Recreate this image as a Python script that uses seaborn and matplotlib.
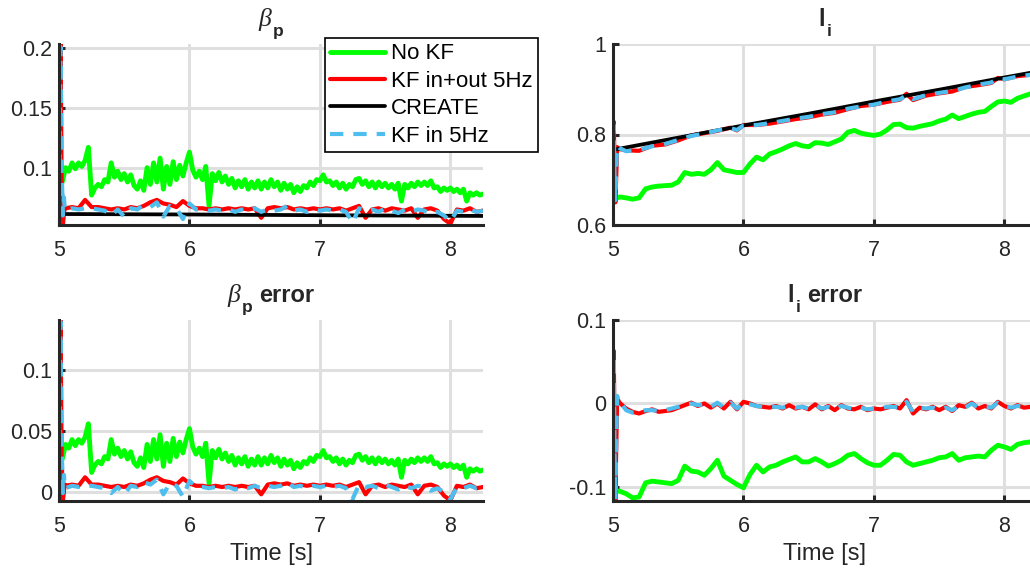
import numpy as np
import matplotlib
matplotlib.use("Agg")
import matplotlib.pyplot as plt
import seaborn as sns

# ---------------- data ----------------
series_labels = ["No KF", "KF in+out 5Hz", "CREATE", "KF in 5Hz"]

# time grids
t_fine = np.round(np.arange(5.025, 8.2501, 0.025), 3)      # 130 samples
t_step = np.round(np.arange(5.05, 8.2501, 0.05), 3)        # 65 samples
t_step0 = np.round(np.arange(5.0, 8.2501, 0.05), 3)        # 66 samples
t_bp_head = [5.004, 5.012, 5.02, 5.03, 5.038, 5.045]
t_li_head = [5.0, 5.006, 5.012, 5.018, 5.024, 5.032, 5.04]

# beta_p estimate, No KF
bp_nokf = [
    0.088, 0.100, 0.097, 0.104, 0.099, 0.104, 0.101, 0.106, 0.117, 0.077,
    0.083, 0.086, 0.084, 0.090, 0.088, 0.104, 0.092, 0.097, 0.090, 0.095,
    0.088, 0.094, 0.085, 0.082, 0.089, 0.081, 0.100, 0.086, 0.104, 0.088,
    0.108, 0.082, 0.101, 0.086, 0.105, 0.090, 0.102, 0.093, 0.104, 0.113,
    0.098, 0.092, 0.097, 0.090, 0.101, 0.068, 0.095, 0.089, 0.096, 0.088,
    0.093, 0.086, 0.091, 0.083, 0.089, 0.084, 0.090, 0.082, 0.088, 0.083,
    0.089, 0.082, 0.088, 0.083, 0.090, 0.084, 0.088, 0.081, 0.087, 0.082,
    0.086, 0.079, 0.084, 0.080, 0.085, 0.083, 0.088, 0.085, 0.090, 0.089,
    0.094, 0.088, 0.089, 0.085, 0.088, 0.083, 0.087, 0.082, 0.086, 0.084,
    0.090, 0.091, 0.086, 0.089, 0.084, 0.088, 0.083, 0.088, 0.084, 0.087,
    0.083, 0.086, 0.082, 0.087, 0.072, 0.086, 0.083, 0.087, 0.084, 0.088,
    0.085, 0.088, 0.085, 0.089, 0.083, 0.084, 0.080, 0.083, 0.081, 0.083,
    0.080, 0.082, 0.079, 0.082, 0.072, 0.079, 0.077, 0.079, 0.077, 0.078,
]
# beta_p estimate, KF in+out 5Hz
bp_kfio = [0.095, 0.204, 0.090, 0.052, 0.062, 0.067,
    0.066, 0.067, 0.066, 0.073, 0.067, 0.067, 0.066, 0.065, 0.066, 0.065,
    0.067, 0.066, 0.068, 0.071, 0.073, 0.070, 0.069, 0.067, 0.072, 0.068,
    0.066, 0.066, 0.065, 0.066, 0.065, 0.066, 0.065, 0.066, 0.065, 0.066,
    0.058, 0.066, 0.067, 0.066, 0.067, 0.065, 0.066, 0.065, 0.066, 0.065,
    0.066, 0.065, 0.066, 0.064, 0.066, 0.068, 0.058, 0.065, 0.066, 0.064,
    0.066, 0.065, 0.064, 0.066, 0.058, 0.065, 0.066, 0.064, 0.057, 0.053,
    0.065, 0.064, 0.066, 0.063, 0.064]
# beta_p estimate, KF in 5Hz
bp_kfin = [0.100, 0.201, 0.100, 0.060, 0.075, 0.064,
    0.064, 0.066, 0.065, 0.066, 0.066, 0.065, 0.064, 0.060, 0.065, 0.059,
    0.066, 0.065, 0.069, 0.067, 0.071, 0.059, 0.068, 0.066, 0.057, 0.070,
    0.065, 0.065, 0.064, 0.065, 0.064, 0.065, 0.063, 0.065, 0.064, 0.066,
    0.063, 0.065, 0.064, 0.065, 0.068, 0.064, 0.065, 0.063, 0.065, 0.064,
    0.065, 0.064, 0.065, 0.063, 0.054, 0.066, 0.064, 0.065, 0.063, 0.066,
    0.064, 0.062, 0.065, 0.063, 0.065, 0.064, 0.061, 0.063, 0.060, 0.055,
    0.064, 0.063, 0.065, 0.063, 0.064]
# beta_p CREATE reference
bp_create_t = [5.0, 6.0, 7.0, 8.0, 8.25]
bp_create = [0.0612, 0.0608, 0.0602, 0.0597, 0.0596]

# beta_p error
bp_err_nokf = [
    0.027, 0.039, 0.036, 0.043, 0.038, 0.043, 0.040, 0.045, 0.056, 0.016,
    0.022, 0.025, 0.023, 0.029, 0.027, 0.043, 0.031, 0.036, 0.029, 0.034,
    0.027, 0.033, 0.024, 0.021, 0.028, 0.020, 0.039, 0.025, 0.043, 0.027,
    0.047, 0.021, 0.040, 0.025, 0.044, 0.029, 0.041, 0.032, 0.043, 0.052,
    0.037, 0.031, 0.036, 0.029, 0.040, 0.007, 0.034, 0.028, 0.035, 0.027,
    0.032, 0.025, 0.030, 0.022, 0.028, 0.023, 0.029, 0.021, 0.027, 0.022,
    0.029, 0.022, 0.028, 0.023, 0.030, 0.024, 0.028, 0.021, 0.027, 0.022,
    0.026, 0.019, 0.024, 0.020, 0.025, 0.023, 0.028, 0.025, 0.030, 0.029,
    0.034, 0.028, 0.029, 0.025, 0.028, 0.023, 0.027, 0.022, 0.026, 0.024,
    0.030, 0.031, 0.026, 0.029, 0.024, 0.028, 0.023, 0.028, 0.024, 0.027,
    0.023, 0.026, 0.022, 0.027, 0.012, 0.026, 0.023, 0.027, 0.024, 0.028,
    0.025, 0.028, 0.025, 0.029, 0.023, 0.024, 0.020, 0.023, 0.021, 0.023,
    0.020, 0.022, 0.019, 0.022, 0.012, 0.019, 0.017, 0.019, 0.017, 0.018,
]
bp_err_kfio = [0.035, 0.141, 0.030, -0.0075, 0.001, 0.006,
    0.005, 0.006, 0.005, 0.012, 0.006, 0.006, 0.005, 0.004, 0.005, 0.004,
    0.006, 0.005, 0.007, 0.010, 0.012, 0.009, 0.008, 0.006, 0.011, 0.007,
    0.005, 0.005, 0.004, 0.005, 0.004, 0.005, 0.004, 0.005, 0.004, 0.005,
    -0.002, 0.006, 0.007, 0.006, 0.007, 0.005, 0.006, 0.005, 0.006, 0.005,
    0.006, 0.005, 0.006, 0.004, 0.006, 0.008, -0.002, 0.005, 0.006, 0.004,
    0.006, 0.005, 0.004, 0.006, -0.002, 0.005, 0.006, 0.004, -0.003, -0.007,
    0.005, 0.004, 0.006, 0.003, 0.004]
bp_err_kfin = [0.040, 0.140, 0.040, -0.001, 0.014, 0.003,
    0.003, 0.005, 0.004, 0.005, 0.005, 0.004, 0.003, -0.001, 0.004, -0.002,
    0.005, 0.004, 0.008, 0.006, 0.010, -0.002, 0.007, 0.005, -0.004, 0.009,
    0.004, 0.004, 0.003, 0.004, 0.003, 0.004, 0.002, 0.004, 0.003, 0.005,
    0.003, 0.005, 0.004, 0.005, 0.008, 0.004, 0.005, 0.003, 0.005, 0.004,
    0.005, 0.004, 0.005, 0.003, -0.006, 0.006, 0.004, 0.005, 0.003, 0.006,
    0.004, 0.002, 0.005, 0.003, 0.005, 0.004, 0.001, 0.003, 0.000, -0.006,
    0.004, 0.003, 0.005, 0.003, 0.004]

# l_i estimate
li_nokf = [
    0.655, 0.662, 0.660, 0.657, 0.660, 0.680, 0.684, 0.686, 0.687, 0.688,
    0.695, 0.716, 0.712, 0.714, 0.712, 0.722, 0.738, 0.722, 0.719, 0.716,
    0.716, 0.735, 0.750, 0.744, 0.757, 0.762, 0.768, 0.775, 0.780, 0.775,
    0.773, 0.782, 0.781, 0.778, 0.784, 0.790, 0.805, 0.809, 0.803, 0.800,
    0.798, 0.801, 0.810, 0.822, 0.823, 0.815, 0.814, 0.818, 0.821, 0.824,
    0.830, 0.834, 0.843, 0.835, 0.840, 0.845, 0.849, 0.851, 0.862, 0.872,
    0.874, 0.871, 0.880, 0.885, 0.890, 0.893]
li_est_t = [5.0, 5.006, 5.012, 5.018, 5.024, 5.032, 5.05,
            5.1, 5.2, 5.3, 5.4, 5.5, 5.6, 5.7, 5.8, 5.9, 5.95,
            6.0, 6.1, 6.2, 6.3, 6.4, 6.5, 6.6, 6.7, 6.8, 6.9, 7.0, 7.1, 7.2, 7.25,
            7.3, 7.4, 7.5, 7.6, 7.7, 7.8, 7.9, 7.95, 8.0, 8.1, 8.2, 8.25]
li_kfio = [0.740, 0.828, 0.720, 0.650, 0.700, 0.772, 0.768,
           0.765, 0.764, 0.775, 0.778, 0.787, 0.798, 0.803, 0.808, 0.815, 0.809,
           0.821, 0.821, 0.824, 0.829, 0.834, 0.838, 0.844, 0.848, 0.856, 0.863,
           0.866, 0.872, 0.877, 0.890,
           0.876, 0.886, 0.891, 0.895, 0.905, 0.909, 0.914, 0.925,
           0.922, 0.929, 0.932, 0.934]
li_kfin = [0.750, 0.820, 0.700, 0.655, 0.720, 0.775, 0.770,
           0.763, 0.766, 0.774, 0.779, 0.788, 0.797, 0.802, 0.809, 0.814, 0.810,
           0.820, 0.821, 0.825, 0.830, 0.835, 0.839, 0.845, 0.849, 0.857, 0.862,
           0.866, 0.873, 0.878, 0.887,
           0.878, 0.887, 0.892, 0.896, 0.904, 0.910, 0.915, 0.924,
           0.922, 0.928, 0.932, 0.935]
li_create_t = [5.0, 5.5, 6.0, 6.5, 7.0, 7.5, 8.0, 8.25]
li_create = [0.766, 0.793, 0.820, 0.846, 0.873, 0.899, 0.926, 0.939]

# l_i error
li_err_nokf = [
    -0.105, -0.105, -0.108, -0.113, -0.112, -0.095, -0.093, -0.094, -0.095, -0.096,
    -0.092, -0.075, -0.081, -0.082, -0.086, -0.078, -0.068, -0.087, -0.092, -0.097,
    -0.101, -0.085, -0.074, -0.082, -0.076, -0.074, -0.070, -0.067, -0.064, -0.070,
    -0.070, -0.066, -0.070, -0.075, -0.072, -0.068, -0.062, -0.060, -0.066, -0.071,
    -0.074, -0.074, -0.068, -0.061, -0.062, -0.070, -0.074, -0.072, -0.070, -0.068,
    -0.065, -0.064, -0.060, -0.068, -0.065, -0.064, -0.063, -0.064, -0.056, -0.050,
    -0.052, -0.055, -0.049, -0.047, -0.046, -0.044]
li_err_kfio = [-0.030, 0.063, -0.050, -0.117, -0.060, 0.006, 0.004,
    0.001, -0.006, -0.010, -0.012, -0.009, -0.007, -0.010, -0.009, -0.008, -0.005,
    -0.002, 0.001, -0.003, 0.000, -0.005, 0.000, -0.006, 0.002, -0.007, 0.002,
    0.000, -0.003, -0.004, -0.005, -0.003, -0.006, -0.002, -0.006, -0.004, -0.007,
    -0.001, -0.007, -0.003, -0.008, -0.002, -0.006, -0.007, -0.004, -0.008, -0.006,
    -0.007, -0.005, -0.003, -0.006, 0.004, -0.012, -0.005, -0.007, -0.004, -0.008,
    -0.004, -0.009, -0.002, -0.004, 0.001, -0.006, -0.003, -0.006, 0.002, -0.003,
    -0.006, -0.002, -0.005, -0.004, -0.005]
li_err_kfin = [-0.020, 0.058, -0.060, -0.115, -0.050, 0.009, 0.002,
    0.003, -0.008, -0.011, -0.010, -0.008, -0.008, -0.009, -0.008, -0.006, -0.004,
    -0.001, 0.000, -0.002, -0.001, -0.004, 0.001, -0.005, 0.001, -0.006, 0.001,
    -0.001, -0.003, -0.004, -0.004, -0.004, -0.005, -0.003, -0.005, -0.004, -0.006,
    -0.002, -0.006, -0.004, -0.007, -0.003, -0.005, -0.007, -0.005, -0.007, -0.006,
    -0.006, -0.004, -0.004, -0.005, 0.002, -0.010, -0.005, -0.006, -0.005, -0.007,
    -0.005, -0.008, -0.003, -0.005, 0.000, -0.005, -0.004, -0.005, 0.001, -0.003,
    -0.005, -0.003, -0.004, -0.004, -0.004]

xticks = [5, 6, 7, 8]
yticks_bp = [0.1, 0.15, 0.2]
yticks_li = [0.6, 0.8, 1.0]
yticks_bp_err = [0, 0.05, 0.1]
yticks_li_err = [-0.1, 0, 0.1]
yticklabels_bp = ["0.1", "0.15", "0.2"]
yticklabels_li = ["0.6", "0.8", "1"]
yticklabels_bp_err = ["0", "0.05", "0.1"]
yticklabels_li_err = ["-0.1", "0", "0.1"]

# panel titles: (main symbol, subscript, suffix)
title_bp = ("β", "p", "")
title_li = ("l", "i", "")
title_bp_err = ("β", "p", "error")
title_li_err = ("l", "i", "error")

# ---------------- style ----------------
sns.set_theme(style="white")
plt.rcParams["font.family"] = ["Liberation Sans", "DejaVu Sans"]

TXT = "#262626"
GRID = "#dfdfdf"
styles = {
    "No KF": dict(color="#00ff00", lw=3.5, ls="-"),
    "KF in+out 5Hz": dict(color="#ff0000", lw=3.0, ls="-"),
    "CREATE": dict(color="#000000", lw=2.7, ls="-"),
    "KF in 5Hz": dict(color="#4dbeee", lw=3.0, ls=(0, (3.2, 2.4))),
}

fig = plt.figure(figsize=(10.3, 5.71), dpi=100)
W, H = 1030, 571
def pos(x0, y_top, y_bot, w=424):
    return [x0 / W, (H - y_bot) / H, w / W, (y_bot - y_top) / H]

ax_bp = fig.add_axes(pos(59, 44, 225))
ax_li = fig.add_axes(pos(613, 44, 225))
ax_bpe = fig.add_axes(pos(59, 320, 501))
ax_lie = fig.add_axes(pos(613, 320, 501))

def draw(ax, t, v, key):
    assert len(t) == len(v), (key, len(t), len(v))
    st = styles[key]
    sns.lineplot(x=np.asarray(t, float), y=np.asarray(v, float), ax=ax,
                 color=st["color"], linewidth=st["lw"], linestyle=st["ls"],
                 estimator=None, sort=False, legend=False, label=key)

t_bp_red = list(t_bp_head) + list(t_step)
t_li_red = list(t_li_head) + list(t_step)

draw(ax_bp, t_fine, bp_nokf, "No KF")
draw(ax_bp, t_bp_red, bp_kfio, "KF in+out 5Hz")
draw(ax_bp, bp_create_t, bp_create, "CREATE")
draw(ax_bp, t_bp_red, bp_kfin, "KF in 5Hz")

draw(ax_li, t_step0, li_nokf, "No KF")
draw(ax_li, li_est_t, li_kfio, "KF in+out 5Hz")
draw(ax_li, li_create_t, li_create, "CREATE")
draw(ax_li, li_est_t, li_kfin, "KF in 5Hz")

draw(ax_bpe, t_fine, bp_err_nokf, "No KF")
draw(ax_bpe, t_bp_red, bp_err_kfio, "KF in+out 5Hz")
draw(ax_bpe, t_bp_red, bp_err_kfin, "KF in 5Hz")

draw(ax_lie, t_step0, li_err_nokf, "No KF")
draw(ax_lie, t_li_red, li_err_kfio, "KF in+out 5Hz")
draw(ax_lie, t_li_red, li_err_kfin, "KF in 5Hz")

BASE = 13.0     # main title baseline above axes top (pt)
SUBDROP = 7.0   # subscript drop (pt)

def make_title(ax, spec):
    main, sub, suffix = spec
    if main == "β":
        mkw = dict(fontsize=18.5, family=["Liberation Serif", "DejaVu Serif"], style="italic")
    else:
        mkw = dict(fontsize=17, fontweight="bold")
    t1 = ax.annotate(main, xy=(0.5, 1), xycoords="axes fraction", xytext=(0, BASE),
                     textcoords="offset points", ha="left", va="baseline",
                     color=TXT, annotation_clip=False, **mkw)
    t2 = ax.annotate(sub, xy=(1, 1), xycoords=(t1, "axes fraction"),
                     xytext=(0.8, BASE - SUBDROP), textcoords="offset points",
                     ha="left", va="baseline", fontsize=12.5, fontweight="bold",
                     color=TXT, annotation_clip=False)
    parts = [t1, t2]
    if suffix:
        t3 = ax.annotate(suffix, xy=(1, 1), xycoords=(t2, "axes fraction"),
                         xytext=(5.0, BASE), textcoords="offset points",
                         ha="left", va="baseline", fontsize=17, fontweight="bold",
                         color=TXT, annotation_clip=False)
        parts.append(t3)
    return parts

cfg = [
    (ax_bp, (0.052, 0.2035), yticks_bp, yticklabels_bp, title_bp, False),
    (ax_li, (0.6, 1.0), yticks_li, yticklabels_li, title_li, False),
    (ax_bpe, (-0.0075, 0.1413), yticks_bp_err, yticklabels_bp_err, title_bp_err, True),
    (ax_lie, (-0.1168, 0.1), yticks_li_err, yticklabels_li_err, title_li_err, True),
]
title_groups = []
for ax, ylim, yt, ytl, title, xl in cfg:
    ax.set_xlim(5, 8.25)
    ax.set_ylim(*ylim)
    ax.set_xticks(xticks)
    ax.set_xticklabels([str(x) for x in xticks])
    ax.set_yticks(yt)
    ax.set_yticklabels(ytl)
    ax.grid(True, color=GRID, lw=2.2)
    ax.set_axisbelow(True)
    for s in ("top", "right"):
        ax.spines[s].set_visible(False)
    for s in ("left", "bottom"):
        ax.spines[s].set_color(TXT)
        ax.spines[s].set_linewidth(2.2)
    ax.tick_params(axis="both", direction="in", length=4, width=2.2, color=TXT,
                   labelcolor=TXT, labelsize=15.5, left=True, bottom=True)
    ax.tick_params(axis="x", pad=11)
    ax.tick_params(axis="y", pad=5)
    title_groups.append((ax, make_title(ax, title)))
    if xl:
        ax.set_xlabel("Time [s]", fontsize=17, color=TXT, labelpad=4)
    else:
        ax.set_xlabel("")
    ax.set_ylabel("")

handles = ax_bp.get_lines()[:4]
leg = ax_bp.legend(handles, series_labels, loc="upper right",
                   bbox_to_anchor=(538 / W, 1 - 38 / H), bbox_transform=fig.transFigure,
                   fontsize=16, frameon=True, fancybox=False, framealpha=1,
                   edgecolor="black", handlelength=2.48, handletextpad=0.25,
                   labelspacing=0.29, borderpad=0.24, borderaxespad=0)
leg.get_frame().set_linewidth(1.2)
for txt in leg.get_texts():
    txt.set_color("black")
leg.set_zorder(10)

# centre each composite title over its axes
fig.canvas.draw()
renderer = fig.canvas.get_renderer()
for ax, parts in title_groups:
    x0 = min(p.get_window_extent(renderer).x0 for p in parts)
    x1 = max(p.get_window_extent(renderer).x1 for p in parts)
    cx = ax.bbox.x0 + ax.bbox.width / 2
    shift_pt = (cx - (x0 + x1) / 2) * 72.0 / fig.dpi
    parts[0].xyann = (shift_pt, BASE)

fig.savefig("out.png", dpi=100)
